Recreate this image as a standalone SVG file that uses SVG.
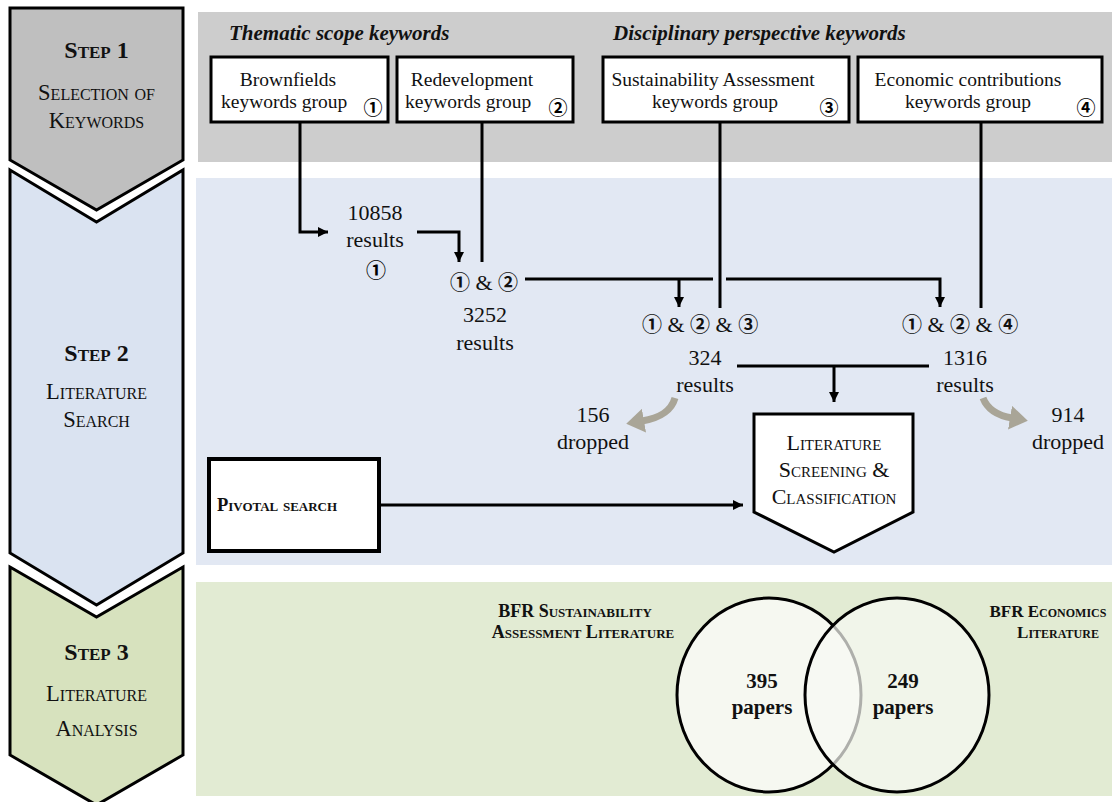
<svg xmlns="http://www.w3.org/2000/svg" width="1112" height="802" viewBox="0 0 1112 802">
<defs>
<style>
.t{font-family:"Liberation Serif","Times New Roman",serif;fill:#111;}
.c{font-family:"Noto Sans CJK SC","DejaVu Sans",sans-serif;font-weight:bold;}
.sc{font-variant:small-caps;}
.ln{fill:none;stroke:#000;stroke-width:3;}
.gr{fill:none;stroke:#a9a597;stroke-width:7;}
.box{fill:#fff;stroke:#000;stroke-width:3;}
.chev{stroke:#000;stroke-width:3;stroke-linejoin:miter;}
</style>
<marker id="ah" markerUnits="userSpaceOnUse" markerWidth="11" markerHeight="10" refX="10" refY="5" orient="auto">
<path d="M0,0 L10,5 L0,10 Z" fill="#000"/>
</marker>
<marker id="gh" markerUnits="userSpaceOnUse" markerWidth="20" markerHeight="24" refX="2" refY="12" orient="auto">
<path d="M0,0 L18,12 L0,24 Z" fill="#a9a597"/>
</marker>
</defs>
<rect width="1112" height="802" fill="#fff"/>
<g id="panels">
<rect x="198" y="12" width="914" height="150" fill="#cdcdcd"/>
<rect x="196" y="178" width="916" height="387" fill="#e2e8f3"/>
<rect x="196" y="582" width="916" height="214" fill="#e2ebd3"/>
</g>
<g id="step1">
<path class="chev" d="M10,8 H183 V160 L96.5,210 L10,160 Z" fill="#bfbfbf"/>
<text class="t sc" x="96.5" y="58" text-anchor="middle" font-size="24" font-weight="bold">Step 1</text>
<text class="t sc" x="96.5" y="100" text-anchor="middle" font-size="22.5">Selection of</text>
<text class="t sc" x="96.5" y="128" text-anchor="middle" font-size="22.5">Keywords</text>
</g>
<g id="step2">
<path class="chev" d="M10,170 L96.5,222 L183,170 V553 L96.5,605 L10,553 Z" fill="#dae3f1"/>
<text class="t sc" x="96.5" y="361" text-anchor="middle" font-size="24" font-weight="bold">Step 2</text>
<text class="t sc" x="96.5" y="399" text-anchor="middle" font-size="22.5">Literature</text>
<text class="t sc" x="96.5" y="427" text-anchor="middle" font-size="22.5">Search</text>
</g>
<g id="step3">
<path class="chev" d="M10,567 L96.5,617 L183,567 V755 L96.5,805 L10,755 Z" fill="#d7e2be"/>
<text class="t sc" x="96.5" y="660" text-anchor="middle" font-size="24" font-weight="bold">Step 3</text>
<text class="t sc" x="96.5" y="701" text-anchor="middle" font-size="22.5">Literature</text>
<text class="t sc" x="96.5" y="736" text-anchor="middle" font-size="22.5">Analysis</text>
</g>
<g id="headers">
<text class="t" x="229" y="40" font-size="21" font-weight="bold" font-style="italic">Thematic scope keywords</text>
<text class="t" x="613" y="40" font-size="21" font-weight="bold" font-style="italic">Disciplinary perspective keywords</text>
</g>
<g id="box1">
<rect class="box" x="211" y="57" width="177" height="65"/>
<text class="t" x="288" y="86" text-anchor="middle" font-size="19.5">Brownfields</text>
<text class="t" x="221" y="108" font-size="19.5">keywords group</text>
<text class="c" x="373" y="115" text-anchor="middle" font-size="19">①</text>
</g>
<g id="box2">
<rect class="box" x="397" y="57" width="176" height="65"/>
<text class="t" x="472" y="86" text-anchor="middle" font-size="19.5">Redevelopment</text>
<text class="t" x="405" y="108" font-size="19.5">keywords group</text>
<text class="c" x="558" y="115" text-anchor="middle" font-size="19">②</text>
</g>
<g id="box3">
<rect class="box" x="603" y="57" width="246" height="65"/>
<text class="t" x="713" y="86" text-anchor="middle" font-size="19.5">Sustainability Assessment</text>
<text class="t" x="715" y="108" text-anchor="middle" font-size="19.5">keywords group</text>
<text class="c" x="829" y="115" text-anchor="middle" font-size="19">③</text>
</g>
<g id="box4">
<rect class="box" x="858" y="57" width="244" height="65"/>
<text class="t" x="968" y="86" text-anchor="middle" font-size="19.5">Economic contributions</text>
<text class="t" x="968" y="108" text-anchor="middle" font-size="19.5">keywords group</text>
<text class="c" x="1086" y="115" text-anchor="middle" font-size="19">④</text>
</g>
<g id="connectors">
<path class="ln" d="M300,122 V232 H328" marker-end="url(#ah)"/>
<path class="ln" d="M417,232 H459 V262" marker-end="url(#ah)"/>
<path class="ln" d="M482,122 V262"/>
<path class="ln" d="M525,279 H713"/>
<path class="ln" d="M726,279 H940 V307" marker-end="url(#ah)"/>
<path class="ln" d="M679,279 V307" marker-end="url(#ah)"/>
<path class="ln" d="M720,122 V308"/>
<path class="ln" d="M981,122 V308"/>
<path class="ln" d="M737,366 H929"/>
<path class="ln" d="M834,366 V402" marker-end="url(#ah)"/>
<path class="ln" d="M380,505 H743" marker-end="url(#ah)"/>
<path class="gr" d="M675,398 C671,412 659,418 642,421" marker-end="url(#gh)"/>
<path class="gr" d="M983,398 C988,411 1000,416 1012,418" marker-end="url(#gh)"/>
</g>
<g id="r1">
<text class="t" x="375" y="220" text-anchor="middle" font-size="22">10858</text>
<text class="t" x="375" y="247" text-anchor="middle" font-size="22">results</text>
<text class="c" x="376" y="278" text-anchor="middle" font-size="20">①</text>
</g>
<g id="r12">
<text class="t" x="484" y="290" text-anchor="middle" font-size="22"><tspan class="c" font-size="20">①</tspan> &amp; <tspan class="c" font-size="20">②</tspan></text>
<text class="t" x="485" y="322" text-anchor="middle" font-size="22">3252</text>
<text class="t" x="485" y="350" text-anchor="middle" font-size="22">results</text>
</g>
<g id="r123">
<text class="t" x="700" y="332" text-anchor="middle" font-size="22"><tspan class="c" font-size="20">①</tspan> &amp; <tspan class="c" font-size="20">②</tspan> &amp; <tspan class="c" font-size="20">③</tspan></text>
<text class="t" x="705" y="365" text-anchor="middle" font-size="22">324</text>
<text class="t" x="705" y="392" text-anchor="middle" font-size="22">results</text>
</g>
<g id="r124">
<text class="t" x="960" y="332" text-anchor="middle" font-size="22"><tspan class="c" font-size="20">①</tspan> &amp; <tspan class="c" font-size="20">②</tspan> &amp; <tspan class="c" font-size="20">④</tspan></text>
<text class="t" x="965" y="365" text-anchor="middle" font-size="22">1316</text>
<text class="t" x="965" y="392" text-anchor="middle" font-size="22">results</text>
</g>
<g id="drop1">
<text class="t" x="593" y="422" text-anchor="middle" font-size="22">156</text>
<text class="t" x="593" y="449" text-anchor="middle" font-size="22">dropped</text>
</g>
<g id="drop2">
<text class="t" x="1068" y="422" text-anchor="middle" font-size="22">914</text>
<text class="t" x="1068" y="449" text-anchor="middle" font-size="22">dropped</text>
</g>
<g id="screening">
<path class="box" d="M754,414 H913 V512 L834,552 L754,512 Z"/>
<text class="t sc" x="834" y="450" text-anchor="middle" font-size="22">Literature</text>
<text class="t sc" x="834" y="477" text-anchor="middle" font-size="22">Screening &amp;</text>
<text class="t sc" x="834" y="504" text-anchor="middle" font-size="22">Classification</text>
</g>
<g id="pivotal">
<rect x="209" y="459" width="170" height="92" fill="#fff" stroke="#000" stroke-width="4"/>
<text class="t sc" x="277" y="511" text-anchor="middle" font-size="18.5" font-weight="bold">Pivotal search</text>
</g>
<g id="venn">
<ellipse cx="769" cy="695" rx="92" ry="97" fill="#f6f8f1" stroke="#000" stroke-width="3"/>
<ellipse cx="897" cy="695" rx="92" ry="97" fill="#f8f9f4" fill-opacity="0.7" stroke="none"/>
<ellipse cx="897" cy="695" rx="92" ry="97" fill="none" stroke="#000" stroke-width="3"/>
<text class="t" x="762" y="688" text-anchor="middle" font-size="21" font-weight="bold">395</text>
<text class="t" x="762" y="714" text-anchor="middle" font-size="21" font-weight="bold">papers</text>
<text class="t" x="903" y="688" text-anchor="middle" font-size="21" font-weight="bold">249</text>
<text class="t" x="903" y="714" text-anchor="middle" font-size="21" font-weight="bold">papers</text>
</g>
<g id="label-sust">
<text class="t sc" x="575" y="617" text-anchor="middle" font-size="18" font-weight="bold">BFR Sustainability</text>
<text class="t sc" x="583" y="638" text-anchor="middle" font-size="18" font-weight="bold">Assessment Literature</text>
</g>
<g id="label-econ">
<text class="t sc" x="1048" y="617" text-anchor="middle" font-size="17" font-weight="bold">BFR Economics</text>
<text class="t sc" x="1058" y="638" text-anchor="middle" font-size="17" font-weight="bold">Literature</text>
</g>
</svg>
